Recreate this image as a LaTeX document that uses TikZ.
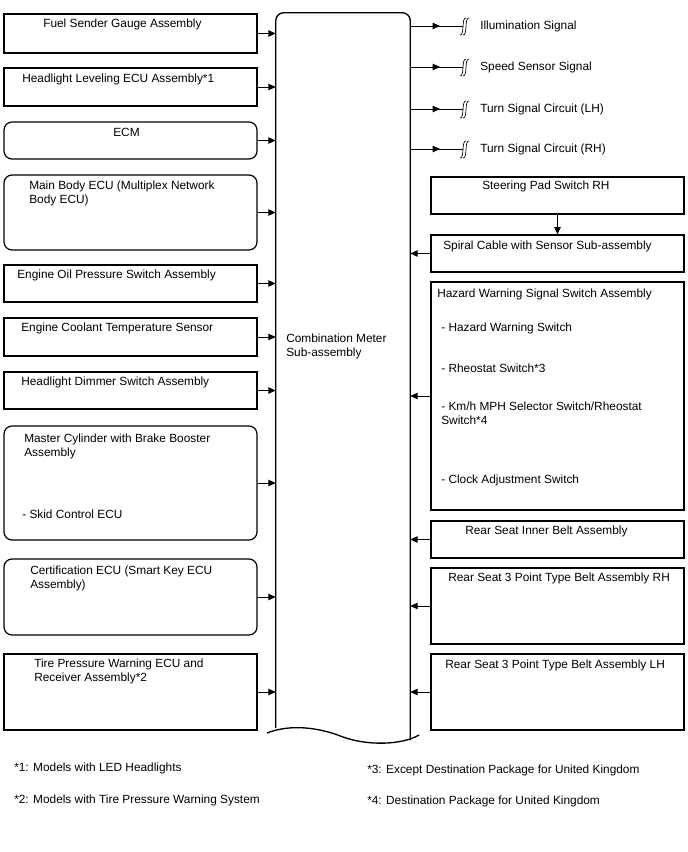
\documentclass[tikz,border=0pt]{standalone}
\usepackage{fontspec}
\setmainfont{Liberation Sans}
\usetikzlibrary{arrows.meta}

\begin{document}
\begin{tikzpicture}[x=0.75pt,y=-0.75pt,
  box/.style={draw,line width=0.9pt,minimum width=189.75pt,inner sep=0pt},
  rbox/.style={box,rounded corners=6pt},
  lbl/.style={anchor=base west,inner sep=0pt,align=left,font=\fontsize{8.9}{10.5}\selectfont},
  arr/.style={line width=0.6pt,-{Triangle[length=5.5pt,width=4.8pt]}}]
\useasboundingbox (0,0) rectangle (688,852);
\node[minimum width=100.5pt,minimum height=545.25pt,inner sep=0pt] (meter) at (343,376.5) {};
\draw[line width=1pt,rounded corners=6pt] (meter.west |- 0,728) -- (meter.north west) -- (meter.north east) -- (meter.south east);
\draw[line width=1pt] (267,733) .. controls (290,724) and (318,727) .. (343,737) .. controls (368,746) and (402,745) .. (419,735);
\node[lbl] (meter-t) at (286,356) {Combination Meter\\Sub-assembly};
\foreach \n/\t/\b/\s in {fuel/14/53/box,hll/68/106/box,ecm/122/159/rbox,mbe/175/250/rbox,oil/265/302/box,ect/318/356/box,dim/372/409/box,mc/426/540/rbox,cert/559/635/rbox,tpw/654/730/box}{
  \node[\s,minimum height={(\b-\t)*0.75pt}] (\n) at (130.5,{(\t+\b)/2}) {};
  \draw[arr] (\n.east) -- (meter.west |- \n.east);
}
\foreach \n/\t/\b in {spad/177/214,spiral/235/272,hazard/282/510,inner/521/558,rh/568/644,lh/654/730}
  \node[box,minimum height={(\b-\t)*0.75pt}] (\n) at (557.5,{(\t+\b)/2}) {};
\foreach \n in {spiral,hazard,inner,rh,lh}
  \draw[arr] (\n.west) -- (meter.east |- \n.west);
\draw[arr] (spad.south) -- (spiral.north);
\foreach \n/\x/\y/\t in {fuel/43/28/Fuel Sender Gauge Assembly,hll/22/83/Headlight Leveling ECU Assembly*1,ecm/113/137/ECM,mbe/29/204/Main Body ECU (Multiplex Network\\Body ECU),oil/17/278/Engine Oil Pressure Switch Assembly,ect/21/331/Engine Coolant Temperature Sensor,dim/21/385/Headlight Dimmer Switch Assembly,mc/24/456/Master Cylinder with Brake Booster\\Assembly,cert/30/588/Certification ECU (Smart Key ECU\\Assembly),tpw/34/681/Tire Pressure Warning ECU and\\Receiver Assembly*2,spad/482/190/Steering Pad Switch RH,spiral/443/249/Spiral Cable with Sensor Sub-assembly,hazard/437/297/Hazard Warning Signal Switch Assembly,inner/465/534/Rear Seat Inner Belt Assembly,rh/448/581/Rear Seat 3 Point Type Belt Assembly RH,lh/445/668/Rear Seat 3 Point Type Belt Assembly LH}
  \node[lbl] (\n-t) at (\x,\y) {\t};
\node[lbl] (skid) at (22,518) {- Skid Control ECU};
\node[lbl] (hws) at (441,331) {- Hazard Warning Switch};
\node[lbl] (rheo) at (441,372) {- Rheostat Switch*3};
\node[lbl] (kmh) at (441,424) {- Km/h MPH Selector Switch/Rheostat\\Switch*4};
\node[lbl] (clock) at (441,483) {- Clock Adjustment Switch};
\foreach \n/\y/\t in {illum/26/Illumination Signal,speed/67/Speed Sensor Signal,tsl/109/Turn Signal Circuit (LH),tsr/149/Turn Signal Circuit (RH)}{
  \coordinate (\n-b) at (463,\y);
  \node[lbl] (\n) at (480,\y+4) {\t};
  \draw[line width=0.6pt] (meter.east |- \n-b) -- (\n-b);
  \draw[arr] (meter.east |- \n-b) -- (440,\y);
  \draw[line width=0.5pt,shift={(\n-b)}] (3,-8) .. controls (-2,-8) and (2,9) .. (-3,9) (6,-8) .. controls (1,-8) and (5,9) .. (0,9);
}
\node[lbl] (f1) at (14,771) {*1: Models with LED Headlights};
\node[lbl] (f2) at (14,803) {*2: Models with Tire Pressure Warning System};
\node[lbl] (f3) at (367,773) {*3: Except Destination Package for United Kingdom};
\node[lbl] (f4) at (367,804) {*4: Destination Package for United Kingdom};
\end{tikzpicture}
\end{document}
